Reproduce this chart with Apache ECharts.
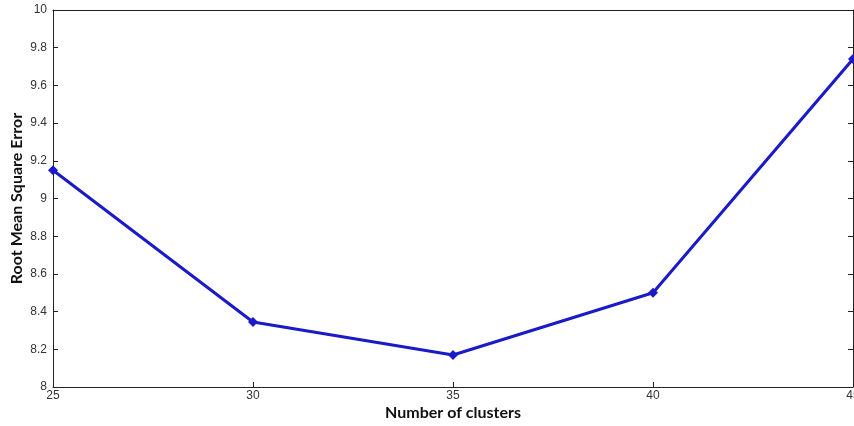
<!DOCTYPE html>
<html><head><meta charset="utf-8">
<script src="https://cdn.jsdelivr.net/npm/echarts@6/dist/echarts.min.js"></script>
<style>html,body{margin:0;padding:0;background:#fff}#c{width:854px;height:426px}</style>
</head><body><div id="c"></div>
<script>
var clusters = [25, 30, 35, 40, 45];
var rmse = [9.15, 8.345, 8.17, 8.50, 9.74];
var xTitle = 'Number of clusters';
var yTitle = 'Root Mean Square Error';

var chart = echarts.init(document.getElementById('c'));
var data = clusters.map(function(c, i){ return [c, rmse[i]]; });
var lineCol = '#1a1ac8';
var axisCommon = {
  axisLine: {show: true, lineStyle: {color: '#222', width: 1}},
  splitLine: {show: false}
};
chart.setOption({
  animation: false,
  grid: {left: 53, top: 10, right: 1, bottom: 39, show: false, containLabel: false, outerBoundsMode: 'none'},
  xAxis: [
    Object.assign({type: 'value', min: 25, max: 45, interval: 5, position: 'bottom',
      name: xTitle, nameLocation: 'middle', nameGap: 18, nameMoveOverlap: false,
      nameTextStyle: {fontFamily: 'Lato', fontWeight: 'bold', fontSize: 16, color: '#111'},
      axisTick: {show: true, inside: true, length: 5, lineStyle: {color: '#222'}},
      axisLabel: {margin: 3, fontFamily: 'Liberation Sans', fontSize: 12, color: '#333', hideOverlap: false}
    }, axisCommon),
    Object.assign({type: 'value', min: 25, max: 45, interval: 5, position: 'top',
      axisTick: {show: false}, axisLabel: {show: false}}, axisCommon)
  ],
  yAxis: [
    Object.assign({type: 'value', min: 8, max: 10, interval: 0.2, position: 'left',
      name: yTitle, nameLocation: 'middle', nameGap: 28, nameMoveOverlap: false,
      nameTextStyle: {fontFamily: 'Lato', fontWeight: 'bold', fontSize: 16, color: '#111'},
      axisTick: {show: true, inside: true, length: 5, lineStyle: {color: '#222'}},
      axisLabel: {margin: 6, fontFamily: 'Liberation Sans', fontSize: 12, color: '#333'}
    }, axisCommon),
    Object.assign({type: 'value', min: 8, max: 10, interval: 0.2, position: 'right',
      axisTick: {show: true, inside: true, length: 5, lineStyle: {color: '#222'}},
      axisLabel: {show: false}}, axisCommon)
  ],
  series: [{
    type: 'line', data: data, xAxisIndex: 0, yAxisIndex: 0,
    lineStyle: {color: lineCol, width: 3},
    itemStyle: {color: lineCol},
    symbol: 'diamond', symbolSize: 10, showAllSymbol: true
  }]
});
</script></body></html>
